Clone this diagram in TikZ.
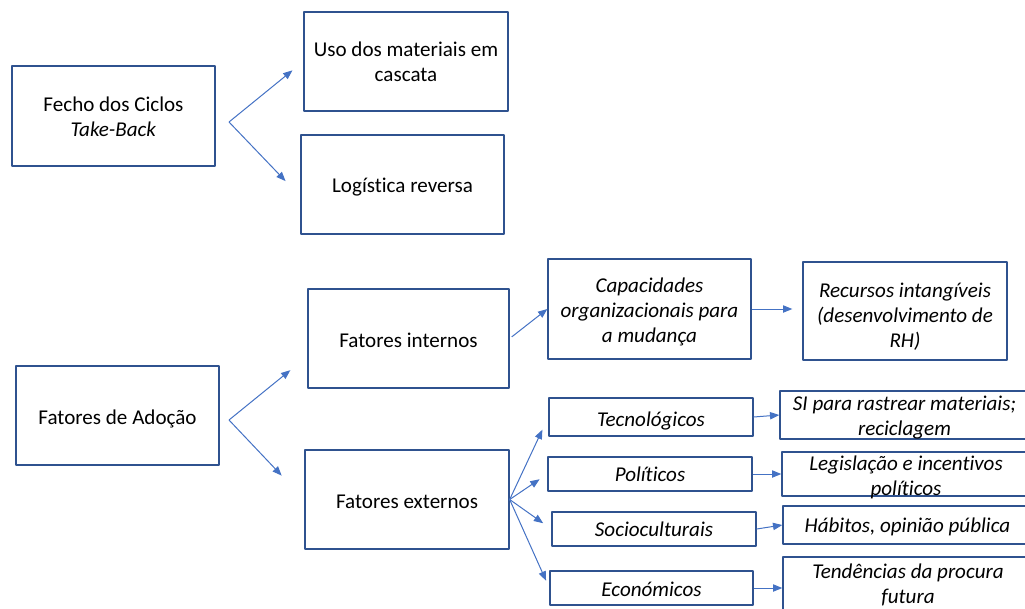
\documentclass[tikz,border=0pt]{standalone}
\usepackage{fontspec}
\setmainfont{Carlito}[Ligatures=NoCommon]
\usetikzlibrary{arrows.meta}
\definecolor{borda}{HTML}{2F528F}
\definecolor{azulseta}{HTML}{4472C4}
\newcommand\tamanho{\fontsize{15.8}{18.8}\selectfont}
\tikzset{
  caixa/.style 2 args={draw=borda, line width=1pt, minimum width=#1*0.75pt, minimum height=#2*0.75pt, inner sep=0pt},
  rotulo/.style={align=center, inner sep=0pt},
  ligacao/.style={draw=azulseta, line width=0.75pt, -{Triangle[length=7pt,width=5.5pt]}},
  italico/.style={rotulo, font=\tamanho\itshape},
}
\begin{document}
\begin{tikzpicture}[x=0.75pt, y=-0.75pt, font=\tamanho, line join=round]
\useasboundingbox (0,0) rectangle (1025,608);
\clip (0,0) rectangle (1025,608);

% fecho dos ciclos
\node[caixa={203}{100}] (fecho) at (113.5,116) {};
\node[caixa={204}{99}] (uso) at (406,61.5) {};
\node[caixa={203}{99}] (log) at (402.5,184.5) {};
\node[rotulo] (fecho-t) at (113.5,117) {Fecho dos Ciclos\\\textit{Take-Back}};
\node[rotulo] (uso-t) at (406,61.5) {Uso dos materiais em\\cascata};
\node[rotulo] (log-t) at (402.5,187.5) {Logística reversa};
\coordinate (r1) at (229,122);
\draw[ligacao, shorten >=10.5pt] (r1) -- (uso.west);
\draw[ligacao, shorten >=16pt] (r1) -- ([yshift=-9pt]log.west);

% fatores de adocao
\node[caixa={203}{99}] (adocao) at (117.5,415.5) {};
\node[caixa={201}{99}] (int) at (408.5,338.5) {};
\node[caixa={204}{99}] (ext) at (407,499.5) {};
\node[rotulo] (adocao-t) at (117.5,418.5) {Fatores de Adoção};
\node[rotulo] (int-t) at (408.5,340.5) {Fatores internos};
\node[rotulo] (ext-t) at (407,501.5) {Fatores externos};
\coordinate (r2) at (229,420);
\draw[ligacao, shorten >=16.4pt] (r2) -- ([yshift=-13.4pt]int.west);
\draw[ligacao, shorten >=24.7pt] (r2) -- (ext.west);

\node[caixa={203}{100}] (cap) at (649.5,309) {};
\node[caixa={204}{98}] (rec) at (905,311) {};
\node[italico] (cap-t) at (649.5,312) {Capacidades\\organizacionais para\\a mudança};
\node[italico] (rec-t) at (905,316.5) {Recursos intangíveis\\(desenvolvimento de\\RH)};
\draw[ligacao, shorten <=2pt] (int.east) -- (cap.west);
\draw[ligacao, shorten >=7.5pt] (cap.east) -- (cap.east -| rec.west);

\node[caixa={204}{38}] (tec) at (651,417) {};
\node[caixa={204}{34}] (pol) at (650,474) {};
\node[caixa={204}{34}] (soc) at (654,529) {};
\node[caixa={203}{34}] (eco) at (651.5,588) {};
\node[italico] (tec-t) at (651,420.5) {Tecnológicos};
\node[italico] (pol-t) at (650,474.5) {Políticos};
\node[italico] (soc-t) at (654,529.5) {Socioculturais};
\node[italico] (eco-t) at (651.5,589) {Económicos};
\foreach \alvo/\enc in {tec/10.5pt, pol/7pt, soc/7.5pt, eco/6pt}
  \draw[ligacao, shorten >=\enc] (ext.east) -- (\alvo.west);

% caixas cortadas a direita
\node[caixa={250}{48}] (si) at (905,415) {};
\node[caixa={248}{44}] (leg) at (906,474) {};
\node[caixa={247}{38}] (hab) at (906.5,525) {};
\node[caixa={247}{56}] (tend) at (906.5,585) {};
\node[italico] (si-t) at (904.5,418) {SI para rastrear materiais;\\reciclagem};
\node[italico] (leg-t) at (906,477.5) {Legislação e incentivos\\políticos};
\node[italico] (hab-t) at (907.5,527) {Hábitos, opinião pública};
\node[italico] (tend-t) at (908,584.5) {Tendências da procura\\futura};

\draw[ligacao] (tec.east) -- (si.west);
\draw[ligacao] (pol.east) -- (pol.east -| leg.west);
\draw[ligacao] (soc.east) -- (hab.west);
\draw[ligacao] (eco.east) -- (eco.east -| tend.west);
\end{tikzpicture}
\end{document}
